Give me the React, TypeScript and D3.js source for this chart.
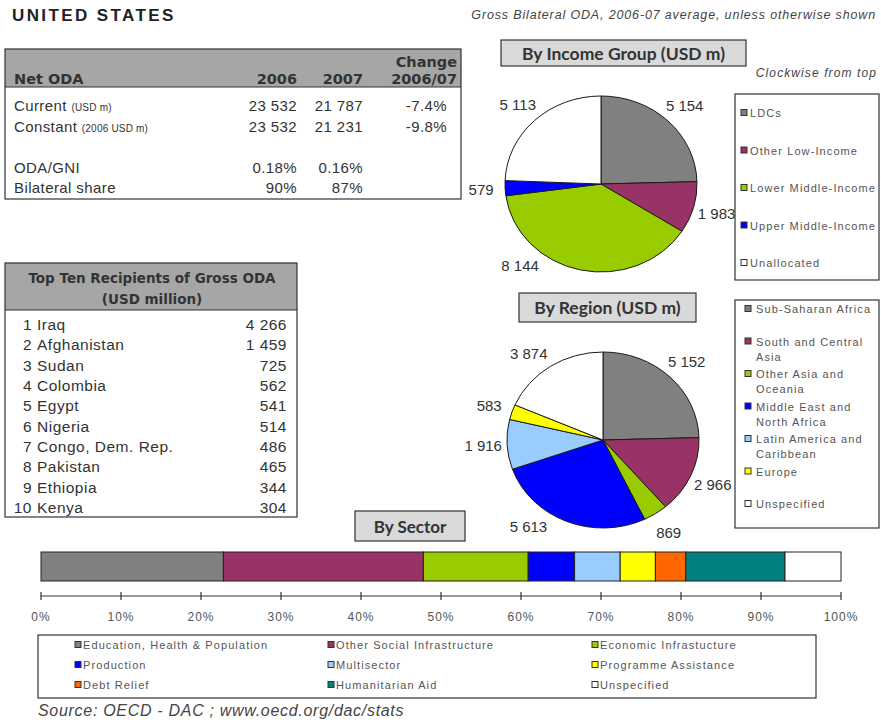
import React from 'react';
import * as d3 from 'd3';

// ---------- DATA ----------
const netOdaLabels = ['Current', 'Constant', 'ODA/GNI', 'Bilateral share'];
const netOdaNotes = ['(USD m)', '(2006 USD m)', '', ''];
const netOda2006 = [23532, 23532];
const netOda2007 = [21787, 21231];
const netOdaChange = [-7.4, -9.8];
const odaGni = [0.18, 0.16];
const bilateralShare = [90, 87];

const topRanks = [1, 2, 3, 4, 5, 6, 7, 8, 9, 10];
const topNames = ['Iraq', 'Afghanistan', 'Sudan', 'Colombia', 'Egypt', 'Nigeria', 'Congo, Dem. Rep.', 'Pakistan', 'Ethiopia', 'Kenya'];
const topValues = [4266, 1459, 725, 562, 541, 514, 486, 465, 344, 304];

const incomeCategories = ['LDCs', 'Other Low-Income', 'Lower Middle-Income', 'Upper Middle-Income', 'Unallocated'];
const incomeValues = [5154, 1983, 8144, 579, 5113];
const incomeColors = ['#808080', '#993366', '#99cc00', '#0000ff', '#ffffff'];
const incomeLabelShift = [0, 0, 30, 0, 0];

const regionCategories = ['Sub-Saharan Africa', 'South and Central\nAsia', 'Other Asia and\nOceania', 'Middle East and\nNorth Africa', 'Latin America and\nCaribbean', 'Europe', 'Unspecified'];
const regionValues = [5152, 2966, 869, 5613, 1916, 583, 3874];
const regionColors = ['#808080', '#993366', '#99cc00', '#0000ff', '#99ccff', '#ffff00', '#ffffff'];
const regionLabelShift = [0, 0, 0, 16, 0, 0, -5];

const sectorCategories = ['Education, Health & Population', 'Other Social Infrastructure', 'Economic Infrastucture', 'Production', 'Multisector', 'Programme Assistance', 'Debt Relief', 'Humanitarian Aid', 'Unspecified'];
const sectorValues = [22.8, 25.0, 13.1, 5.8, 5.7, 4.4, 3.8, 12.4, 7.0];
const sectorColors = ['#808080', '#993366', '#99cc00', '#0000ff', '#99ccff', '#ffff00', '#ff6600', '#008080', '#ffffff'];

// ---------- STYLE ----------
const W = 881, H = 726;
const ARIAL = '"Liberation Sans", Arial, sans-serif';
const TAHOMA = '"DejaVu Sans", Verdana, sans-serif';
const CALIBRI = 'Lato, "Open Sans", sans-serif';
const TXT = '#333';
const LEG = '#555';

const fmt = d3.formatLocale({ decimal: '.', thousands: '\u2009', grouping: [3], currency: ['', ''] }).format(',');
const fmtNum = (v: number) => fmt(v).replace('\u2009', ' ');

function Pie({ values, colors, shift, cx, cy }: { values: number[]; colors: string[]; shift: number[]; cx: number; cy: number }) {
  const R = 88;
  const rx = 96, ry = 88;
  const arcs = d3.pie<number>().sort(null).value((d) => d)(values);
  const arcGen = d3.arc<d3.PieArcDatum<number>>().innerRadius(0).outerRadius(R);
  const k = 1.25;
  return (
    <g>
      <g transform={`translate(${cx},${cy}) scale(${rx / R},${ry / R})`}>
        {arcs.map((a, i) => (
          <path key={i} d={arcGen(a) || ''} fill={colors[i]} stroke="#1a1a1a" strokeWidth={1} vectorEffect="non-scaling-stroke" />
        ))}
      </g>
      {arcs.map((a, i) => {
        const ang = (a.startAngle + a.endAngle) / 2 + (shift[i] * Math.PI) / 180;
        const x = cx + rx * k * Math.sin(ang);
        const y = cy - ry * k * Math.cos(ang);
        return (
          <text key={i} x={x} y={y} textAnchor="middle" dominantBaseline="central" fontFamily={ARIAL} fontSize={15} fill={TXT}>
            {fmtNum(values[i])}
          </text>
        );
      })}
    </g>
  );
}

function Swatch({ x, y, color }: { x: number; y: number; color: string }) {
  return <rect x={x} y={y - 3.5} width={6} height={6} fill={color} stroke="#333" strokeWidth={1} />;
}

function TitleBox({ x, y, w, h, label, size }: { x: number; y: number; w: number; h: number; label: string; size: number }) {
  return (
    <g>
      <rect x={x} y={y} width={w} height={h} fill="#d9d9d9" stroke="#333" strokeWidth={1.2} />
      <text x={x + w / 2} y={y + h / 2} textAnchor="middle" dominantBaseline="central" fontFamily={CALIBRI} fontWeight={700} fontSize={size} fill="#333">
        {label}
      </text>
    </g>
  );
}

const legendText = { fontFamily: ARIAL, fontSize: 11, letterSpacing: 1.1, fill: LEG } as const;

export default function App() {
  const x = d3.scaleLinear().domain([0, 100]).range([41, 841]);
  const cum = d3.cumsum(sectorValues);
  const ticks = x.ticks(10);

  const incomeLegendY = d3.scaleLinear().domain([0, incomeCategories.length - 1]).range([113, 263]);
  const regionLegendY = d3.scaleLinear().domain([0, regionCategories.length - 1]).range([309, 504]);
  const topY = d3.scaleLinear().domain([0, 9]).range([330, 513]);

  const rowFont = { fontSize: 15, letterSpacing: 0.4 } as const;

  return (
    <svg width={W} height={H} style={{ position: 'absolute', left: 0, top: 0, background: '#fff' }}>
      <rect x={0} y={0} width={W} height={H} fill="#fff" />
      {/* Title */}
      <text x={12} y={21} fontFamily={ARIAL} fontWeight={700} fontSize={17} letterSpacing={2.4} fill="#222">UNITED STATES</text>
      <text x={876} y={19} textAnchor="end" fontFamily={ARIAL} fontStyle="italic" fontSize={12.5} letterSpacing={0.85} fill="#444">
        Gross Bilateral ODA, 2006-07 average, unless otherwise shown
      </text>

      {/* Net ODA table */}
      <g fontFamily={ARIAL} fill={TXT}>
        <rect x={5} y={49} width={456} height={38} fill="#a6a6a6" />
        <rect x={5} y={49} width={456} height={150} fill="none" stroke="#333" strokeWidth={1.2} />
        <line x1={5} x2={461} y1={87} y2={87} stroke="#333" strokeWidth={1.2} />
        <g fontFamily={TAHOMA} fontWeight={700} fontSize={14.5}>
          <text x={14} y={84}>Net ODA</text>
          <text x={297} y={84} textAnchor="end">2006</text>
          <text x={363} y={84} textAnchor="end">2007</text>
          <text x={457} y={67} textAnchor="end">Change</text>
          <text x={457} y={84} textAnchor="end">2006/07</text>
        </g>
        {[0, 1].map((i) => (
          <g key={i} {...rowFont}>
            <text x={14} y={111 + i * 21}>
              {netOdaLabels[i]} <tspan fontSize={10} letterSpacing={0.2}>{netOdaNotes[i]}</tspan>
            </text>
            <text x={297} y={111 + i * 21} textAnchor="end">{fmtNum(netOda2006[i])}</text>
            <text x={363} y={111 + i * 21} textAnchor="end">{fmtNum(netOda2007[i])}</text>
            <text x={447} y={111 + i * 21} textAnchor="end">{netOdaChange[i].toFixed(1)}%</text>
          </g>
        ))}
        <g {...rowFont}>
          <text x={14} y={173}>{netOdaLabels[2]}</text>
          <text x={297} y={173} textAnchor="end">{odaGni[0].toFixed(2)}%</text>
          <text x={363} y={173} textAnchor="end">{odaGni[1].toFixed(2)}%</text>
          <text x={14} y={193}>{netOdaLabels[3]}</text>
          <text x={297} y={193} textAnchor="end">{bilateralShare[0]}%</text>
          <text x={363} y={193} textAnchor="end">{bilateralShare[1]}%</text>
        </g>
      </g>

      {/* Top ten table */}
      <g fontFamily={ARIAL} fill={TXT}>
        <rect x={5} y={263} width={292} height={47} fill="#a6a6a6" />
        <rect x={5} y={263} width={292} height={254} fill="none" stroke="#333" strokeWidth={1.2} />
        <line x1={5} x2={297} y1={310} y2={310} stroke="#333" strokeWidth={1.2} />
        <text x={152} y={283} textAnchor="middle" fontFamily={TAHOMA} fontWeight={700} fontSize={13.5}>Top Ten Recipients of Gross ODA</text>
        <text x={152} y={304} textAnchor="middle" fontFamily={TAHOMA} fontWeight={700} fontSize={13.5}>(USD million)</text>
        {topNames.map((n, i) => (
          <g key={n} fontSize={15.5} letterSpacing={0.5}>
            <text x={32} y={topY(i)} textAnchor="end">{topRanks[i]}</text>
            <text x={37} y={topY(i)}>{n}</text>
            <text x={287} y={topY(i)} textAnchor="end">{fmtNum(topValues[i])}</text>
          </g>
        ))}
      </g>

      {/* Income group pie */}
      <TitleBox x={501} y={40} w={245} h={26} label="By Income Group (USD m)" size={17.5} />
      <text x={877} y={77} textAnchor="end" fontFamily={ARIAL} fontStyle="italic" fontSize={12} letterSpacing={1.1} fill="#444">Clockwise from top</text>
      <Pie values={incomeValues} colors={incomeColors} shift={incomeLabelShift} cx={601} cy={184} />
      <rect x={735} y={94} width={144} height={186} fill="#fff" stroke="#333" strokeWidth={1.2} />
      {incomeCategories.map((c, i) => (
        <g key={c}>
          <Swatch x={741} y={incomeLegendY(i)} color={incomeColors[i]} />
          <text x={750} y={incomeLegendY(i)} dominantBaseline="central" {...legendText}>{c}</text>
        </g>
      ))}

      {/* Region pie */}
      <TitleBox x={519} y={293} w={177} h={29} label="By Region (USD m)" size={17.5} />
      <Pie values={regionValues} colors={regionColors} shift={regionLabelShift} cx={603} cy={440} />
      <rect x={735} y={300} width={144} height={228} fill="#fff" stroke="#333" strokeWidth={1.2} />
      {regionCategories.map((c, i) => (
        <g key={c}>
          <Swatch x={745} y={regionLegendY(i)} color={regionColors[i]} />
          {c.split('\n').map((line, j) => (
            <text key={j} x={756} y={regionLegendY(i) + j * 15} dominantBaseline="central" {...legendText}>{line}</text>
          ))}
        </g>
      ))}

      {/* Sector bar */}
      <TitleBox x={355} y={511} w={110} h={30} label="By Sector" size={17} />
      {sectorValues.map((v, i) => (
        <rect key={i} x={x(cum[i] - v)} y={552} width={x(cum[i]) - x(cum[i] - v)} height={29} fill={sectorColors[i]} stroke="#222" strokeWidth={1} />
      ))}
      <line x1={x(0)} x2={x(100)} y1={596} y2={596} stroke="#333" strokeWidth={1.2} />
      {ticks.map((t) => (
        <g key={t}>
          <line x1={x(t)} x2={x(t)} y1={592} y2={600} stroke="#333" strokeWidth={1.2} />
          <text x={x(t)} y={617} textAnchor="middle" dominantBaseline="central" fontFamily={ARIAL} fontSize={12} letterSpacing={1} fill={LEG}>{t}%</text>
        </g>
      ))}

      {/* Sector legend */}
      <rect x={38} y={635} width={778} height={63} fill="#fff" stroke="#333" strokeWidth={1.2} />
      {sectorCategories.map((c, i) => {
        const colX = [75, 328, 592][i % 3];
        const rowY = 645 + Math.floor(i / 3) * 20;
        return (
          <g key={c}>
            <Swatch x={colX} y={rowY} color={sectorColors[i]} />
            <text x={colX + 8} y={rowY} dominantBaseline="central" {...legendText}>{c}</text>
          </g>
        );
      })}

      <text x={38} y={716} fontFamily={ARIAL} fontStyle="italic" fontSize={16} letterSpacing={0.7} fill="#444">Source:  OECD - DAC ; www.oecd.org/dac/stats</text>
    </svg>
  );
}
